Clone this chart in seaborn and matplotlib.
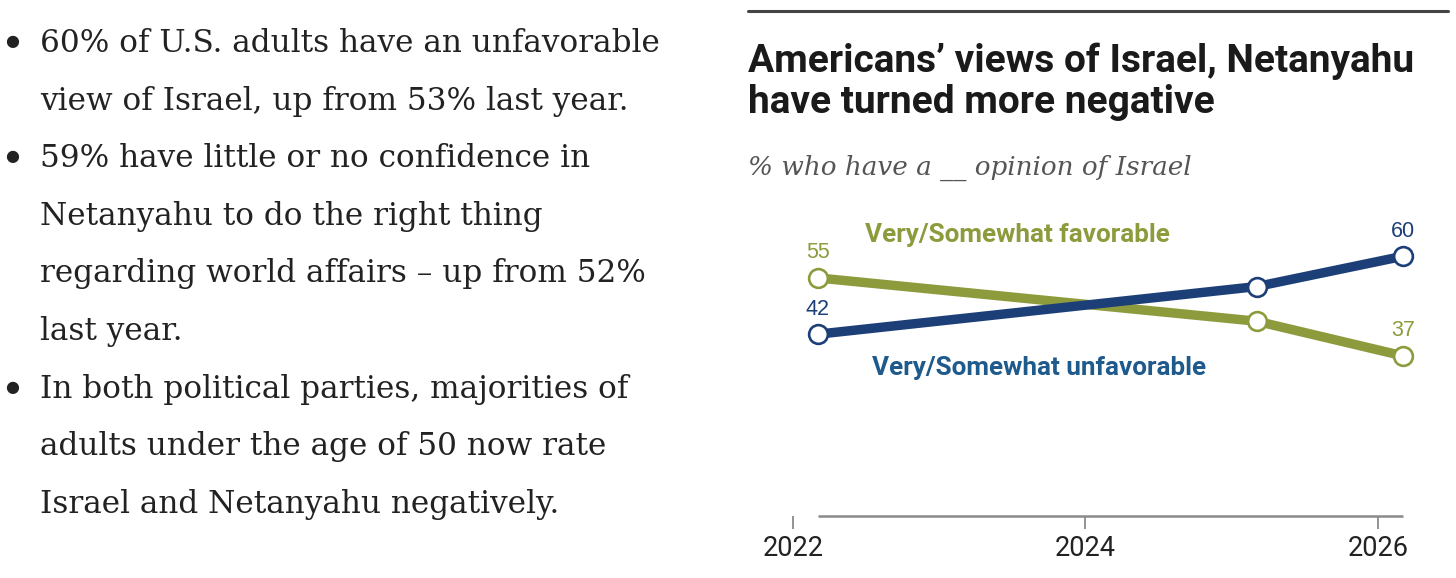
"""Pew-style chart: Americans' views of Israel, with bullet notes on the left."""

import matplotlib.pyplot as plt
import pandas as pd
import seaborn as sns

# survey timing (fractional year, March of each year)
survey_years = [2022.17, 2025.17, 2026.17]
favorable = [55, 45, 37]
unfavorable = [42, 53, 60]
series_names = ["Very/Somewhat favorable", "Very/Somewhat unfavorable"]
tick_years = [2022, 2024, 2026]

bullets = [
    ["60% of U.S. adults have an unfavorable", "view of Israel, up from 53% last year."],
    ["59% have little or no confidence in", "Netanyahu to do the right thing",
     "regarding world affairs \u2013 up from 52%", "last year."],
    ["In both political parties, majorities of", "adults under the age of 50 now rate",
     "Israel and Netanyahu negatively."],
]

title_lines = ["Americans\u2019 views of Israel, Netanyahu", "have turned more negative"]
subtitle = "% who have a __ opinion of Israel"

OLIVE = "#8d9b3d"
NAVY = "#1d3f78"
LABEL_BLUE = "#1f5a8c"
COND = ["Roboto", "DejaVu Sans"]
SERIF = ["DejaVu Serif"]

W, H = 1456, 578

df = pd.DataFrame({
    "year": survey_years * 2,
    "pct": favorable + unfavorable,
    "series": [series_names[0]] * 3 + [series_names[1]] * 3,
})

sns.set_theme(style="white")
plt.rcParams["font.family"] = ["Liberation Sans", "DejaVu Sans"]

fig = plt.figure(figsize=(W / 100, H / 100), dpi=100)


def fy(px):
    """Pixel row (from top) to figure fraction."""
    return 1 - px / H


# left column text, one baseline every 57.6 px
base = 52
for block in bullets:
    fig.text(12 / W, fy(base - 6), "\u25cf", fontsize=11.5, family=SERIF,
             color="#222222", va="baseline", ha="center")
    for line in block:
        fig.text(40 / W, fy(base), line, fontsize=22.4, family=SERIF,
                 color="#222222", va="baseline")
        base += 57.6

# chart header
fig.add_artist(plt.Line2D([748 / W, 1448 / W], [fy(11), fy(11)],
                          color="#444444", lw=2.2))
for txt, b in zip(title_lines, [72, 113]):
    fig.text(748 / W, fy(b), txt, fontsize=28.0, fontweight="bold",
             family=COND, color="#1a1a1a", va="baseline")
fig.text(748 / W, fy(175), subtitle, fontsize=18.9, style="italic",
         family=SERIF, color="#555555", va="baseline")

# axes placed so the x axis sits at pixel row 516
ax = fig.add_axes([760 / W, (H - 516) / H, 680 / W, 316 / H])
sns.lineplot(data=df, x="year", y="pct", hue="series",
             palette=[OLIVE, NAVY], lw=6.8, marker="o", markersize=13.5,
             markerfacecolor="white", markeredgewidth=1.9,
             legend=False, ax=ax)
for line, c in zip(ax.lines, [OLIVE, NAVY]):
    line.set_markeredgecolor(c)

px_per_year = 146.25
ax.set_xlim(2022 - 33 / px_per_year, 2026 + 62 / px_per_year)
ax.set_ylim(0, 73)

# value labels at first and last points
for vals, c in [(favorable, OLIVE), (unfavorable, NAVY)]:
    for i in (0, -1):
        ax.annotate(str(vals[i]), (survey_years[i], vals[i]),
                    xytext=(0, 18), textcoords="offset points",
                    ha="center", va="center", fontsize=15.5, color=c)

ax.text(2022.49, 64.9, series_names[0], color=OLIVE, fontsize=18.8,
        fontweight="bold", family=COND, va="center")
ax.text(2022.54, 34.2, series_names[1], color=LABEL_BLUE, fontsize=18.8,
        fontweight="bold", family=COND, va="center")

# baseline spanning the data only, plus ticks
ax.plot([survey_years[0], survey_years[-1]], [0, 0], color="#8a8a8a",
        lw=1.8, clip_on=False, solid_capstyle="butt")
ax.set_xticks(tick_years)
ax.set_xticklabels([str(t) for t in tick_years], fontsize=19.5, family=COND,
                   color="#222222")
ax.tick_params(axis="x", length=9.5, width=1.3, color="#8a8a8a", pad=4.5,
               bottom=True)
ax.set_yticks([])
ax.set_xlabel("")
ax.set_ylabel("")
for s in ax.spines.values():
    s.set_visible(False)
ax.patch.set_alpha(0)

fig.savefig("out.png", dpi=100)
